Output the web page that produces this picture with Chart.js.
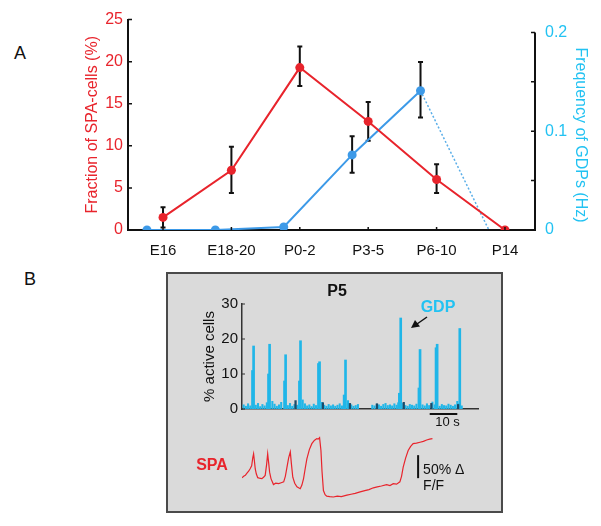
<!DOCTYPE html>
<html>
<head>
<meta charset="utf-8">
<script src="https://cdn.jsdelivr.net/npm/chart.js@4.4.1/dist/chart.umd.min.js"></script>
<style>
  html, body { margin: 0; padding: 0; background: #fff; }
  #page { position: relative; width: 601px; height: 526px; font-family: Arial, "Liberation Sans", sans-serif; }
  .panel-label { position: absolute; font-size: 18px; line-height: 18px; color: #111; }
  #boxB { position: absolute; left: 166px; top: 272px; width: 337px; height: 241px;
          background: #dadada; border: 2px solid #4a4a4a; box-sizing: border-box; }
  canvas { position: absolute; }
</style>
</head>
<body>
<div id="page">
  <div class="panel-label" style="left:14px; top:44px;">A</div>
  <div class="panel-label" style="left:24px; top:270px;">B</div>
  <div id="boxB"></div>
  <canvas id="chartA" style="left:0; top:0;" width="601" height="265"></canvas>
  <canvas id="chartB" style="left:166px; top:272px;" width="337" height="160"></canvas>
  <canvas id="chartSPA" style="left:166px; top:432px;" width="337" height="80"></canvas>
</div>
<script>
// ---- panel A data ----
const CATS = ['E16', 'E18-20', 'P0-2', 'P3-5', 'P6-10', 'P14'];
const SPA_FRAC = [1.5, 7.1, 19.3, 12.9, 6.0, 0];
const SPA_LO   = [0.3, 4.4, 17.1, 10.6, 4.4, null];
const SPA_HI   = [2.7, 9.9, 21.8, 15.2, 7.8, null];
const GDP_FREQ = [0, 0, 0.003, 0.076, 0.141, 0];
const GDP_LO   = [null, null, null, 0.058, 0.114, null];
const GDP_HI   = [null, null, null, 0.095, 0.170, null];
const Y_TICKS  = [0, 5, 10, 15, 20, 25];
const Y2_TICKS = [0, 0.05, 0.1, 0.15, 0.2];

// ---- panel B data (time in s, % active cells) ----
const PEAK_T = [4.2, 10.0, 15.8, 21.2, 28.1, 37.5, 57.5, 64.5, 70.7, 78.9];
const PEAK_V = [18, 18.5, 15.5, 19.5, 13.5, 14, 26, 17, 18.5, 23];
const SHOULDER_T = [3.8, 9.6, 15.4, 20.8, 27.7, 37.0, 57.0, 64.1, 70.3, 78.4];
const SHOULDER_V = [11, 10, 8, 8, 13, 4, 4.5, 6, 17.5, 1.5];
const NOISE_T = [
  0.6, 1.4, 2.2, 3.0, 5.0, 5.8, 6.6, 7.4, 8.2, 9.0,
  11.0, 11.8, 12.6, 13.4, 14.2, 16.6, 17.4, 18.2, 19.0, 20.0,
  22.0, 22.8, 23.6, 24.4, 25.2, 26.0, 26.8, 29.0, 29.8, 30.6,
  31.4, 32.2, 33.0, 33.8, 34.6, 35.4, 36.2, 38.4, 39.6, 40.4,
  41.2, 42.0, 47.2, 48.0, 48.8, 49.6, 50.4, 51.2, 52.0, 52.8,
  53.6, 54.4, 55.2, 56.0, 56.6, 58.4, 59.2, 60.0, 60.8, 61.6,
  62.4, 63.2, 65.4, 66.2, 67.0, 67.8, 69.0, 69.8, 71.6, 72.4,
  73.2, 74.0, 74.8, 75.6, 76.4, 77.2, 78.0, 79.6
];
const NOISE_V = [
  1.2, 0.8, 1.5, 0.9, 1.1, 1.6, 0.7, 1.3, 0.9, 1.8,
  2.2, 1.4, 0.8, 1.2, 1.9, 1.0, 1.6, 0.8, 1.3, 1.1,
  2.6, 1.5, 0.9, 1.2, 0.7, 1.4, 1.0, 1.9, 1.1, 0.8,
  1.3, 0.9, 1.2, 0.8, 1.1, 1.5, 0.9, 2.4, 1.2, 0.8,
  1.0, 1.3, 1.1, 0.9, 1.4, 1.2, 0.8, 1.3, 1.6, 1.0,
  1.2, 0.9, 1.5, 1.1, 1.8, 1.6, 1.0, 0.8, 1.3, 1.1,
  0.9, 1.4, 1.2, 0.9, 1.5, 1.0, 2.0, 1.2, 0.8, 1.3,
  1.0, 0.9, 1.4, 1.1, 0.8, 1.2, 2.2, 0.9
];
const DARK_T = [19.4, 29.3, 39.1, 48.9, 58.6, 68.6, 78.3];
const DARK_V = [2.4, 1.8, 1.6, 1.5, 1.9, 1.6, 1.3];
const B_TICKS = [0, 10, 20, 30];

// SPA calcium trace (time s, %dF/F above trough)
const SPA_T = [
  0, 0.6, 1.2, 1.8, 2.4, 3.0, 3.5, 3.9, 4.2, 4.5,
  4.8, 5.2, 5.7, 6.3, 7.2, 7.8, 8.4, 8.9, 9.3, 9.7,
  10.0, 10.5, 11.4, 12.2, 13.3, 14.2, 15.1, 15.7, 16.3, 16.9,
  17.5, 17.9, 18.4, 19.1, 19.9, 20.5, 21.1, 21.7, 22.3, 22.9,
  23.5, 24.4, 25.3, 26.2, 27.1, 27.6, 28.1, 28.6, 29.0, 29.5,
  30.1, 30.7, 31.8, 33.1, 34.5, 36.0, 38.0, 39.5, 41.0, 42.8,
  44.5, 46.0, 47.6, 49.0, 50.5, 52.4, 53.6, 54.8, 56.0, 57.2,
  57.8, 58.4, 59.3, 60.2, 61.1, 62.0, 63.2, 64.5, 65.7, 66.9,
  68.0, 69.0
];
const SPA_V = [
  42, 45, 47, 52, 56, 62, 68, 85, 94, 78,
  61, 50, 42, 41, 40, 43, 47, 70, 94, 72,
  54, 40, 27, 30, 29, 31, 33, 45, 65, 85,
  98, 72, 43, 30, 22, 20, 18, 26, 40, 62,
  83, 103, 116, 123, 127, 126, 129, 101, 55, 14,
  5, 2, 1, 0, 2, 1, 4, 6, 8, 11,
  14, 16, 20, 22, 24, 27, 25, 29, 28, 33,
  45, 65, 85, 101, 110, 116, 117, 119, 121, 124,
  126, 127
];

const RED = '#e8242c';
const BLUE = '#3d9ae8';
const CYAN = '#22c2f2';
const BAR_CYAN = '#20b6e8';
const DARK = '#1c4a68';
const FONT = 'Arial, "Liberation Sans", sans-serif';
const GDP_SHIFT = 0.235;   // blue points sit a little left of each category
const T_MAX = 85.5;

// black error bars, drawn under the markers
const errorBars = {
  id: 'errorBars',
  beforeDatasetsDraw(chart) {
    const ctx = chart.ctx;
    chart.data.datasets.forEach((ds, di) => {
      if (!ds.errLo) return;
      const meta = chart.getDatasetMeta(di);
      const xs = chart.scales[meta.xAxisID], ys = chart.scales[meta.yAxisID];
      ctx.save();
      ctx.strokeStyle = '#111';
      ctx.lineWidth = 2;
      ds.data.forEach((p, i) => {
        if (ds.errLo[i] == null) return;
        const x = xs.getPixelForValue(p.x);
        const y1 = ys.getPixelForValue(ds.errLo[i]);
        const y2 = ys.getPixelForValue(ds.errHi[i]);
        ctx.beginPath();
        ctx.moveTo(x, y1); ctx.lineTo(x, y2);
        ctx.moveTo(x - 2.5, y1); ctx.lineTo(x + 2.5, y1);
        ctx.moveTo(x - 2.5, y2); ctx.lineTo(x + 2.5, y2);
        ctx.stroke();
      });
      ctx.restore();
    });
  }
};

// right axis line (0..0.2 only), inward ticks and right title
const axesA = {
  id: 'axesA',
  afterDraw(chart) {
    const { ctx, chartArea: a, scales: { x, y, y2 } } = chart;
    ctx.save();
    ctx.strokeStyle = '#111';
    ctx.lineWidth = 2;
    ctx.beginPath();
    ctx.moveTo(a.right, y2.getPixelForValue(0) + 1);
    ctx.lineTo(a.right, y2.getPixelForValue(0.2));
    ctx.stroke();
    ctx.lineWidth = 1.5;
    ctx.beginPath();
    y.ticks.forEach(t => { const py = y.getPixelForValue(t.value); ctx.moveTo(a.left, py); ctx.lineTo(a.left + 4, py); });
    y2.ticks.forEach(t => { const py = y2.getPixelForValue(t.value); ctx.moveTo(a.right, py); ctx.lineTo(a.right - 4, py); });
    x.ticks.forEach(t => { const px = x.getPixelForValue(t.value); ctx.moveTo(px, a.bottom); ctx.lineTo(px, a.bottom - 3); });
    ctx.stroke();
    ctx.fillStyle = CYAN;
    ctx.font = '16px ' + FONT;
    ctx.textAlign = 'center';
    ctx.textBaseline = 'middle';
    ctx.translate(580, 135);
    ctx.rotate(Math.PI / 2);
    ctx.fillText('Frequency of GDPs (Hz)', 0, 0);
    ctx.restore();
  }
};

const noGrid = { display: false, drawTicks: false };

new Chart(document.getElementById('chartA'), {
  type: 'line',
  data: {
    datasets: [
      {
        label: 'SPA-cells',
        data: SPA_FRAC.map((v, i) => ({ x: i, y: v })),
        errLo: SPA_LO, errHi: SPA_HI,
        yAxisID: 'y',
        borderColor: RED, backgroundColor: RED,
        borderWidth: 2, pointRadius: 4.5, pointBorderWidth: 0,
      },
      {
        label: 'GDPs',
        data: GDP_FREQ.map((v, i) => ({ x: i - GDP_SHIFT, y: v })),
        errLo: GDP_LO, errHi: GDP_HI,
        yAxisID: 'y2',
        borderColor: BLUE, backgroundColor: BLUE,
        borderWidth: 2, pointBorderWidth: 0,
        pointRadius: c => c.dataIndex === GDP_FREQ.length - 1 ? 0 : 4.5,
        segment: {
          borderDash: c => c.p1DataIndex === GDP_FREQ.length - 1 ? [2, 2] : undefined,
          borderWidth: c => c.p1DataIndex === GDP_FREQ.length - 1 ? 1.5 : undefined,
          borderColor: c => c.p1DataIndex === GDP_FREQ.length - 1 ? '#5aaee8' : undefined,
        },
      },
    ],
  },
  options: {
    responsive: false,
    animation: false,
    layout: { padding: { top: 17, left: 0, right: 0, bottom: 0 } },
    plugins: { legend: { display: false }, tooltip: { enabled: false } },
    scales: {
      x: {
        type: 'linear', min: -0.512, max: 5.439,
        afterBuildTicks: s => { s.ticks = CATS.map((_, i) => ({ value: i })); },
        afterFit: s => { s.height = 35; },
        ticks: { callback: v => CATS[v], color: '#111', font: { family: FONT, size: 15 },
                 padding: 12, maxRotation: 0, autoSkip: false },
        grid: noGrid,
        border: { color: '#111', width: 2 },
      },
      y: {
        position: 'left', min: 0, max: 25,
        afterBuildTicks: s => { s.ticks = Y_TICKS.map(v => ({ value: v })); },
        afterFit: s => { s.width = 128; },
        ticks: { color: RED, font: { family: FONT, size: 16 }, padding: 5 },
        grid: noGrid,
        border: { color: '#111', width: 2 },
        title: { display: true, text: 'Fraction of SPA-cells (%)', color: RED,
                 font: { family: FONT, size: 16 }, padding: { top: 83, bottom: 0 } },
      },
      y2: {
        position: 'right', min: 0, max: 0.213,
        afterBuildTicks: s => { s.ticks = Y2_TICKS.map(v => ({ value: v })); },
        afterFit: s => { s.width = 66; },
        ticks: {
          color: CYAN, font: { family: FONT, size: 16 }, padding: 10,
          callback: v => [0, 0.1, 0.2].some(k => Math.abs(k - v) < 1e-9) ? (v === 0 ? '0' : v.toFixed(1)) : '',
        },
        grid: noGrid,
        border: { display: false },
      },
    },
  },
  plugins: [errorBars, axesA],
});

// ---- panel B: % active cells ----
const annotB = {
  id: 'annotB',
  afterDraw(chart) {
    const { ctx, chartArea: a, scales: { x, y } } = chart;
    ctx.save();
    ctx.strokeStyle = '#333';
    ctx.lineWidth = 1.2;
    ctx.beginPath();
    y.ticks.forEach(t => { const py = y.getPixelForValue(t.value); ctx.moveTo(a.left, py); ctx.lineTo(a.left + 3, py); });
    ctx.stroke();

    ctx.textAlign = 'center';
    ctx.textBaseline = 'middle';
    ctx.fillStyle = '#111';
    ctx.font = 'bold 16px ' + FONT;
    ctx.fillText('P5', 171, 20);
    ctx.fillStyle = CYAN;
    ctx.fillText('GDP', 272, 36);

    // arrow pointing at the big GDP
    ctx.strokeStyle = '#111';
    ctx.fillStyle = '#111';
    ctx.lineWidth = 1.5;
    ctx.beginPath();
    ctx.moveTo(261, 45); ctx.lineTo(251, 52);
    ctx.stroke();
    ctx.beginPath();
    ctx.moveTo(245, 56); ctx.lineTo(249, 48); ctx.lineTo(254, 54.5);
    ctx.closePath();
    ctx.fill();

    // 10 s scale bar
    const x0 = x.getPixelForValue(68), x1 = x.getPixelForValue(78);
    ctx.lineWidth = 2;
    ctx.beginPath();
    ctx.moveTo(x0, 142); ctx.lineTo(x1, 142);
    ctx.stroke();
    ctx.font = '13px ' + FONT;
    ctx.fillText('10 s', (x0 + x1) / 2 + 4, 150);
    ctx.restore();
  }
};

const barSet = (ts, vs, color, thick) => ({
  data: ts.map((t, i) => ({ x: t, y: vs[i] })),
  backgroundColor: color,
  barThickness: thick,
  grouped: false,
});

new Chart(document.getElementById('chartB'), {
  type: 'bar',
  data: {
    datasets: [
      barSet(DARK_T, DARK_V, DARK, 1.6),
      barSet(PEAK_T, PEAK_V, BAR_CYAN, 2),
      barSet(SHOULDER_T, SHOULDER_V, BAR_CYAN, 2),
      barSet(NOISE_T, NOISE_V, BAR_CYAN, 1.4),
    ],
  },
  options: {
    responsive: false,
    animation: false,
    layout: { padding: { top: 32, left: 0, right: 25, bottom: 0 } },
    plugins: { legend: { display: false }, tooltip: { enabled: false } },
    scales: {
      x: {
        type: 'linear', min: 0, max: T_MAX, offset: false,
        afterFit: s => { s.height = 23; },
        ticks: { display: false },
        grid: noGrid,
        border: { color: '#333', width: 1.5 },
      },
      y: {
        min: 0, max: 30,
        afterBuildTicks: s => { s.ticks = B_TICKS.map(v => ({ value: v })); },
        afterFit: s => { s.width = 76; },
        ticks: { color: '#111', font: { family: FONT, size: 15 }, padding: 4 },
        grid: noGrid,
        border: { color: '#333', width: 1.5 },
        title: { display: true, text: '% active cells', color: '#111',
                 font: { family: FONT, size: 15 }, padding: { top: 35, bottom: 0 } },
      },
    },
  },
  plugins: [annotB],
});

// ---- panel B: SPA trace ----
const annotSPA = {
  id: 'annotSPA',
  afterDraw(chart) {
    const { ctx, scales: { x, y } } = chart;
    ctx.save();
    ctx.fillStyle = RED;
    ctx.font = 'bold 16px ' + FONT;
    ctx.textAlign = 'center';
    ctx.textBaseline = 'middle';
    ctx.fillText('SPA', 46, 34);

    const bx = x.getPixelForValue(63.8);
    ctx.strokeStyle = '#111';
    ctx.lineWidth = 2;
    ctx.beginPath();
    ctx.moveTo(bx, y.getPixelForValue(41));
    ctx.lineTo(bx, y.getPixelForValue(91));
    ctx.stroke();
    ctx.fillStyle = '#111';
    ctx.font = '14px ' + FONT;
    ctx.textAlign = 'left';
    ctx.fillText('50% \u0394', bx + 5, 38);
    ctx.fillText('F/F', bx + 5, 54);
    ctx.restore();
  }
};

new Chart(document.getElementById('chartSPA'), {
  type: 'line',
  data: {
    datasets: [{
      data: SPA_T.map((t, i) => ({ x: t, y: SPA_V[i] })),
      borderColor: RED, borderWidth: 1.2, pointRadius: 0, tension: 0,
    }],
  },
  options: {
    responsive: false,
    animation: false,
    layout: { padding: { top: 2, left: 76, right: 25, bottom: 12 } },
    plugins: { legend: { display: false }, tooltip: { enabled: false } },
    scales: {
      x: { type: 'linear', min: 0, max: T_MAX, display: false },
      y: { min: -6.5, max: 137, display: false },
    },
  },
  plugins: [annotSPA],
});
</script>
</body>
</html>
